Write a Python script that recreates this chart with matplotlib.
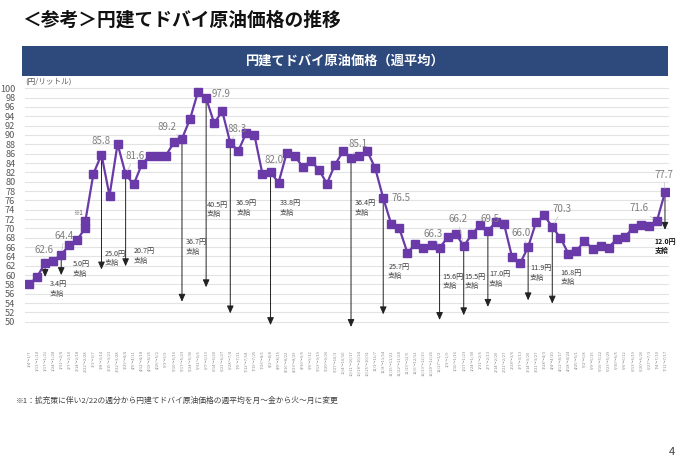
import matplotlib
matplotlib.use("Agg")
import matplotlib.pyplot as plt
from matplotlib.patches import Rectangle

plt.rcParams['font.family'] = ['Noto Sans CJK JP', 'DejaVu Sans']

# ---------------- data ----------------
week_labels = [
    "1/4～1/7", "1/11～1/14", "1/17～1/21", "1/24～1/28", "1/31～2/4", "2/7～2/10", "2/14～2/18",
    "2/22～2/28", "3/1～3/7", "3/8～3/14", "3/15～3/21", "3/22～3/28", "3/29～4/4", "4/5～4/11",
    "4/12～4/18", "4/19～4/25", "4/26～5/2", "5/3～5/9", "5/10～5/16", "5/17～5/23", "5/24～5/30",
    "5/31～6/6", "6/7～6/13", "6/14～6/20", "6/21～6/27", "6/28～7/4", "7/5～7/11", "7/12～7/18",
    "7/19～7/25", "7/26～8/1", "8/2～8/8", "8/9～8/15", "8/16～8/22", "8/23～8/29", "8/30～9/5",
    "9/6～9/12", "9/13～9/19", "9/20～9/26", "9/27～10/3", "10/4～10/10", "10/11～10/17",
    "10/18～10/24", "10/25～10/31", "11/1～11/7", "11/8～11/14", "11/15～11/21", "11/22～11/28",
    "11/29～12/5", "12/6～12/12", "12/13～12/19", "12/20～12/26", "12/27～1/2", "1/3～1/9",
    "1/10～1/16", "1/17～1/23", "1/24～1/30", "1/31～2/6", "2/7～2/13", "2/14～2/20", "2/21～2/27",
    "2/28～3/6", "3/7～3/13", "3/14～3/20", "3/21～3/27", "3/28～4/3", "4/4～4/10", "4/11～4/17",
    "4/18～4/24", "4/25～5/1", "5/2～5/8", "5/9～5/15", "5/16～5/22", "5/23～5/29", "5/30～6/5",
    "6/6～6/12", "6/13～6/19", "6/20～6/26", "6/27～7/3", "7/4～7/10", "7/11～7/17",
]

# week of each point (the week of the method change ※1 holds two points)
point_weeks = week_labels[:8] + [week_labels[7]] + week_labels[8:]

prices = [58.0, 59.6, 62.6, 63.1, 64.4, 66.4, 67.6, 70.1, 71.6, 81.7,
          85.8, 77.0, 88.1, 81.6, 79.4, 83.7, 85.6, 85.6, 85.6, 88.4,
          89.2, 93.4, 99.3, 97.9, 92.5, 95.1, 88.3, 86.6, 90.5, 90.0,
          81.6, 82.0, 79.8, 86.1, 85.5, 83.2, 84.4, 82.6, 79.6, 83.6,
          86.5, 85.1, 85.5, 86.6, 82.9, 76.5, 70.9, 70.0, 64.8, 66.6,
          65.9, 66.4, 65.8, 68.1, 68.9, 66.2, 68.7, 70.7, 69.5, 71.4,
          71.0, 63.9, 62.5, 66.0, 71.4, 72.8, 70.3, 68.0, 64.6, 65.1,
          67.4, 65.6, 66.2, 65.9, 67.7, 68.1, 70.1, 70.7, 70.6, 71.6,
          77.7]

# labelled points (index into prices) and their label text
label_idx = [2, 4, 10, 13, 20, 23, 26, 31, 41, 45, 52, 55, 58, 63, 66, 79, 80]
label_txt = ["62.6", "64.4", "85.8", "81.6", "89.2", "97.9", "88.3", "82.0", "85.1",
             "76.5", "66.3", "66.2", "69.5", "66.0", "70.3", "71.6", "77.7"]

# subsidy arrows (index into prices) and amounts
subsidy_idx = [2, 4, 10, 13, 20, 23, 26, 31, 41, 45, 52, 55, 58, 63, 66, 80]
subsidy_amt = ["3.4", "5.0", "25.0", "20.7", "36.7", "40.5", "36.9", "33.8", "36.4",
               "25.7", "15.6", "15.5", "17.0", "11.9", "16.8", "12.0"]

# ---------------- layout / style ----------------
label_off = [(-1, 13), (3, 19), (0, 14), (9, 18), (-15, 12), (15, 4), (7, 14), (4, 12), (7, 13.5),
             (18, 0), (-6, 14.5), (-6, 27), (2, 12), (-7, 14), (10, 18), (-18, 12.5), (-1, 17.5)]
label_leader = [True, True, False, True, True, False, True, False, True,
                False, True, True, False, True, True, True, True]
arrow_end = [59.6, 60.0, 61.2, 61.9, 54.3, 57.4, 51.8, 49.3, 48.9, 51.6, 50.4, 51.4, 53.2, 54.6, 53.9, 69.7]
sub_text_top = [58.9, 63.2, 65.4, 66.0, 67.9, 75.9, 76.3, 76.3, 76.3, 62.7, 60.5, 60.5, 61.0, 62.3, 61.4, 67.9]
sub_text_dx = [5, 12, 3, 8, 4, 1, 6, 9, 4, 5, 3, 1, 1, 2, 8, -10]

PURPLE = "#6A3AA8"
W, H = 680, 468
fig = plt.figure(figsize=(W / 100, H / 100), dpi=100)
fig.patch.set_facecolor("white")

# title and header bar
fig.text(22 / W, 1 - 20 / H, "＜参考＞円建てドバイ原油価格の推移", fontsize=13.5, fontweight="bold",
         ha="left", va="center", color="#111111")
fig.add_artist(Rectangle((22 / W, 1 - 76 / H), 646 / W, 30 / H, transform=fig.transFigure,
                         facecolor="#2E4A7D", edgecolor="none"))
fig.text(345 / W, 1 - 61 / H, "円建てドバイ原油価格（週平均）", fontsize=9.5, fontweight="bold",
         ha="center", va="center", color="white")

# axes: x 25..669 px, y 83.6..333.5 px
ax = fig.add_axes([25 / W, (H - 333.5) / H, 644 / W, (333.5 - 83.6) / H])
ax.set_xlim(-0.5, len(week_labels) - 0.5)
ax.set_ylim(47.5, 101)
for s in ax.spines.values():
    s.set_visible(False)
ax.set_yticks(range(50, 101, 2))
ax.grid(axis="y", color="#E3E3E3", linewidth=0.8)
ax.set_axisbelow(True)
ax.tick_params(axis="y", length=0, pad=7, labelsize=6.6, labelcolor="#595959")
ax.set_xticks(range(len(week_labels)))
ax.set_xticklabels(week_labels, rotation=90, fontsize=3, color="#8C8C8C")
ax.tick_params(axis="x", length=0, pad=12)

xs = [week_labels.index(w) for w in point_weeks]
ax.plot(xs, prices, color=PURPLE, linewidth=1.6, marker="s", markersize=5.3,
        markerfacecolor=PURPLE, markeredgecolor=PURPLE, zorder=3)

PX = 0.72  # points per pixel
# subsidy arrows and texts
for i, amt, yend, ytop, dx in zip(subsidy_idx, subsidy_amt, arrow_end, sub_text_top, sub_text_dx):
    x = xs[i]
    ax.annotate("", xy=(x, yend), xytext=(x, prices[i]),
                arrowprops=dict(arrowstyle="-|>,head_length=0.45,head_width=0.2", color="#222222",
                                linewidth=0.7, shrinkA=0, shrinkB=0), zorder=2)
    last = (i == subsidy_idx[-1])
    ax.annotate(f"{amt}円\n支給", xy=(x, ytop), xytext=(dx * PX, 0), textcoords="offset points",
                ha="left", va="top", fontsize=5.0 if last else 5.2, linespacing=1.25,
                color="#111111" if last else "#404040",
                fontweight="bold" if last else "normal", annotation_clip=False)

# value labels
for i, t, (dx, dy), lead in zip(label_idx, label_txt, label_off, label_leader):
    x = xs[i]
    ap = dict(arrowstyle="-", color="#BFBFBF", linewidth=0.5, shrinkA=0, shrinkB=3) if lead else None
    ax.annotate(t, xy=(x, prices[i]), xytext=(dx * PX, dy * PX), textcoords="offset points",
                ha="center", va="center", fontsize=7, color="#7F7F7F", arrowprops=ap, zorder=4)

# ※1 marker
ax.annotate("※1", xy=(xs[8], prices[8]), xytext=(-7 * PX, 8 * PX), textcoords="offset points",
            ha="center", va="center", fontsize=4.5, color="#595959")

# unit label
fig.text(25 / W, 1 - 82 / H, "(円/リットル)", fontsize=5.5, color="#595959", ha="left", va="center")

# footnote and page number
fig.text(16 / W, 1 - 401 / H, "※1：拡充策に伴い2/22の週分から円建てドバイ原油価格の週平均を月～金から火～月に変更",
         fontsize=5.6, color="#404040", ha="left", va="center")
fig.text(672 / W, 1 - 452 / H, "4", fontsize=8, color="#404040", ha="center", va="center")

fig.savefig("out.png", dpi=100)
